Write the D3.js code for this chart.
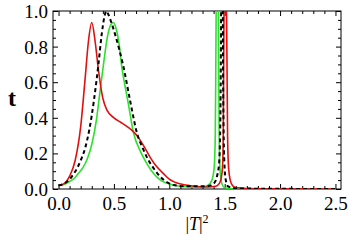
<!DOCTYPE html>
<html>
<head>
<meta charset="utf-8">
<script src="https://cdn.jsdelivr.net/npm/d3@7"></script>
<style>
  body { margin: 0; background: #fff; }
</style>
</head>
<body>
<div id="graf"></div>
<script>
// datos: [|T|^2, t]
red = [[0.00,0.02],[0.05,0.03],[0.10,0.072],[0.15,0.16],[0.20,0.35],[0.24,0.62],[0.27,0.83],[0.30,0.935],
       [0.33,0.83],[0.36,0.67],[0.40,0.51],[0.44,0.44],[0.50,0.40],[0.56,0.375],[0.62,0.35],[0.67,0.325],
       [0.72,0.29],[0.78,0.23],[0.83,0.175],[0.88,0.13],[0.95,0.085],[1.00,0.055],[1.05,0.038],[1.15,0.022],
       [1.25,0.014],[1.35,0.011],[1.42,0.015],[1.45,0.03],[1.468,0.06],[1.48,0.12],[1.487,0.3],[1.491,0.7],
       [1.495,1.1],[1.505,1.4],[1.515,1.1],[1.521,0.7],[1.526,0.3],[1.535,0.12],[1.55,0.05],[1.57,0.02],
       [1.60,0.008],[1.70,0.003],[2.00,0.001],[2.50,0.0]]

green = [[0.00,0.02],[0.05,0.025],[0.10,0.042],[0.15,0.065],[0.18,0.088],[0.22,0.12],[0.26,0.17],[0.30,0.25],
         [0.34,0.38],[0.375,0.55],[0.41,0.72],[0.44,0.85],[0.47,0.92],[0.495,0.935],[0.52,0.9],[0.55,0.8],
         [0.57,0.69],[0.60,0.58],[0.63,0.48],[0.675,0.32],[0.74,0.21],[0.80,0.14],[0.856,0.088],[0.92,0.05],
         [0.98,0.032],[1.05,0.02],[1.15,0.013],[1.25,0.012],[1.30,0.013],[1.35,0.022],[1.385,0.05],
         [1.405,0.12],[1.415,0.3],[1.42,0.7],[1.424,1.1],[1.433,1.4],[1.442,1.1],[1.446,0.7],[1.45,0.3],
         [1.457,0.12],[1.47,0.04],[1.49,0.012],[1.52,0.004],[1.60,0.001],[2.50,0.0]]

black = [[0.00,0.02],[0.05,0.03],[0.10,0.055],[0.14,0.088],[0.20,0.16],[0.24,0.23],[0.28,0.34],[0.32,0.5],
         [0.36,0.7],[0.39,0.87],[0.415,0.97],[0.43,1.0],[0.45,0.98],[0.48,0.93],[0.51,0.87],[0.55,0.78],
         [0.585,0.69],[0.645,0.5],[0.71,0.31],[0.76,0.23],[0.80,0.175],[0.86,0.115],[0.92,0.068],[0.98,0.038],
         [1.04,0.022],[1.15,0.015],[1.30,0.015],[1.35,0.017],[1.40,0.03],[1.43,0.07],[1.45,0.15],[1.46,0.35],
         [1.465,0.7],[1.468,1.1],[1.475,1.4],[1.482,1.1],[1.485,0.7],[1.49,0.35],[1.497,0.15],[1.51,0.05],
         [1.53,0.015],[1.60,0.003],[2.50,0.0]]

xTicks = [0, 0.5, 1.0, 1.5, 2.0, 2.5]
yTicks = [0, 0.2, 0.4, 0.6, 0.8, 1.0]

// I. Configuración
serif = '"Liberation Serif", "Times New Roman", "DejaVu Serif", serif'
ancho_total = 350
alto_total = 245
margins = { top: 11, left: 53, right: 9, bottom: 56 }
ancho = ancho_total - margins.left - margins.right
alto = alto_total - margins.top - margins.bottom

svg = d3.select('#graf').append('svg')
        .attr('width', ancho_total)
        .attr('height', alto_total)

g = svg.append('g')
       .attr('transform', `translate(${margins.left}, ${margins.top})`)

x = d3.scaleLinear().domain([-0.05, 2.55]).range([0, ancho])
y = d3.scaleLinear().domain([0, 1]).range([alto, 0])

xMinor = d3.range(0, 2.501, 0.1).filter(v => Math.abs(v * 2 - Math.round(v * 2)) > 1e-6)
yMinor = d3.range(0, 1.001, 0.05).filter(v => Math.abs(v * 5 - Math.round(v * 5)) > 1e-6)

// ejes (ticks hacia dentro, como Mathematica)
function eje(axis, vals, size, fmt) {
  return axis.tickValues(vals).tickSizeInner(-size).tickSizeOuter(0).tickPadding(6).tickFormat(fmt)
}
fmt = d3.format('.1f')
none = () => ''

xb = g.append('g').attr('transform', `translate(0, ${alto})`)
xb.call(eje(d3.axisBottom(x), xTicks, 5, fmt))
g.append('g').attr('transform', `translate(0, ${alto})`).call(eje(d3.axisBottom(x), xMinor, 3, none))
g.append('g').call(eje(d3.axisTop(x), xTicks, 5, none))
g.append('g').call(eje(d3.axisTop(x), xMinor, 3, none))

yl = g.append('g')
yl.call(eje(d3.axisLeft(y), yTicks, 5, fmt))
g.append('g').call(eje(d3.axisLeft(y), yMinor, 3, none))
g.append('g').attr('transform', `translate(${ancho}, 0)`).call(eje(d3.axisRight(y), yTicks, 5, none))
g.append('g').attr('transform', `translate(${ancho}, 0)`).call(eje(d3.axisRight(y), yMinor, 3, none))

g.selectAll('.domain').remove()
g.selectAll('g').attr('font-family', null)
g.selectAll('.tick line').attr('stroke', '#000').attr('stroke-width', 1)
g.selectAll('.tick text')
  .style('font-family', serif)
  .style('font-size', '19px')
  .attr('fill', '#000')
xb.selectAll('.tick text').attr('dy', '0.8em')
yl.selectAll('.tick text').attr('dx', '1px').attr('dy', '0.34em')

g.append('rect')
  .attr('width', ancho).attr('height', alto)
  .attr('fill', 'none').attr('stroke', '#000').attr('stroke-width', 1)

// curvas
svg.append('clipPath').attr('id', 'clip')
   .append('rect').attr('width', ancho).attr('height', alto)

linea = d3.line()
          .x(d => x(d[0]))
          .y(d => y(d[1]))
          .curve(d3.curveMonotoneX)

curvas = g.append('g').attr('clip-path', 'url(#clip)')
curvas.append('path').datum(green)
  .attr('d', linea).attr('fill', 'none').attr('stroke', '#2ee02e').attr('stroke-width', 1.6)
curvas.append('path').datum(red)
  .attr('d', linea).attr('fill', 'none').attr('stroke', '#e01010').attr('stroke-width', 1.6)
curvas.append('path').datum(black)
  .attr('d', linea).attr('fill', 'none').attr('stroke', '#000').attr('stroke-width', 2)
  .attr('stroke-dasharray', '4,3')

// títulos
svg.append('text')
  .attr('x', 12).attr('y', 106)
  .attr('text-anchor', 'middle')
  .style('font-family', serif)
  .style('font-size', '24px').style('font-weight', 'bold')
  .text('t')

xt = svg.append('text')
  .attr('x', margins.left + ancho / 2).attr('y', 230)
  .attr('text-anchor', 'middle')
  .style('font-family', serif)
  .style('font-size', '18px')
xt.append('tspan').text('|')
xt.append('tspan').style('font-style', 'italic').text('T')
xt.append('tspan').text('|')
xt.append('tspan').attr('dy', -7).style('font-size', '12px').text('2')
</script>
</body>
</html>
